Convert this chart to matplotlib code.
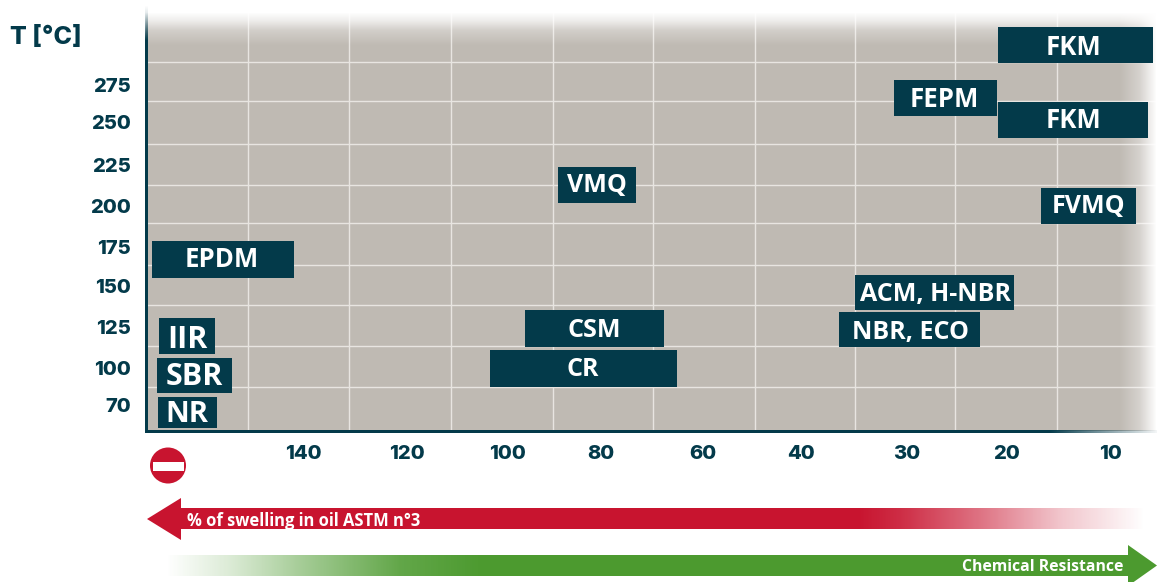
import numpy as np
import matplotlib
matplotlib.use("Agg")
import matplotlib.pyplot as plt
from matplotlib.patches import Polygon, Circle, Rectangle
from matplotlib.colors import to_rgb

# data (band coordinates of the chart's two category axes)
materials = ["FKM", "FEPM", "FKM", "VMQ", "FVMQ", "EPDM", "ACM, H-NBR", "NBR, ECO", "CSM", "CR", "IIR", "SBR", "NR"]
x_low = [8.43, 7.40, 8.43, 4.08, 8.85, 0.06, 7.01, 6.85, 3.75, 3.40, 0.13, 0.11, 0.12]
x_high = [9.96, 8.42, 9.91, 4.85, 9.79, 1.46, 8.59, 8.25, 5.12, 5.25, 0.68, 0.85, 0.70]
y_low = [9.06, 7.76, 7.22, 5.62, 5.10, 3.77, 2.98, 2.07, 2.07, 1.08, 1.90, 0.94, 0.07]
y_high = [9.95, 8.65, 8.10, 6.50, 5.99, 4.68, 3.84, 2.93, 2.98, 2.00, 2.78, 1.80, 0.84]
label_x = [9.17, 7.90, 9.17, 4.46, 9.32, 0.75, 7.81, 7.56, 4.43, 4.32, 0.41, 0.48, 0.40]
label_y = [9.53, 8.23, 7.73, 6.12, 5.60, 4.31, 3.44, 2.51, 2.56, 1.60, 2.32, 1.42, 0.49]
label_size = [18.5, 18.5, 18.5, 18, 18, 18.5, 18, 18, 18, 18, 22, 22, 21]
swelling_labels = ["140", "120", "100", "80", "60", "40", "30", "20", "10"]
swelling_pos = [1.56, 2.58, 3.58, 4.50, 5.51, 6.48, 7.52, 8.51, 9.54]
temp_labels = ["275", "250", "225", "200", "175", "150", "125", "100", "70"]
temp_pos = [8.52, 7.61, 6.56, 5.55, 4.54, 3.57, 2.57, 1.56, 0.64]
x_grid = [1.01, 2.01, 3.02, 4.03, 5.01, 6.02, 7.01, 8.00, 9.01]
y_grid = [9.09, 8.13, 7.07, 6.06, 5.12, 4.09, 3.10, 2.09, 1.08]

W, H = 1157, 582
DARK = "#033A4A"
BEIGE = "#BFBAB3"
RED = "#C8142F"
GREEN = "#4C9A2F"
FONT = ["Inter", "DejaVu Sans"]
LABEL_FONT = ["Open Sans", "DejaVu Sans"]

fig = plt.figure(figsize=(W / 100, H / 100), dpi=100, facecolor="white")
L, R, B, T = 146, 1157, 431, 12
ax = fig.add_axes([L / W, 1 - B / H, (R - L) / W, (B - T) / H])
ax.set_facecolor(BEIGE)
for s in ax.spines.values():
    s.set_visible(False)

ax.vlines(x_grid, 0, 10.32, color="#E8E5E1", lw=1.0, zorder=1)
ax.hlines(y_grid, 0, 10, color="#E8E5E1", lw=1.0, zorder=1)

# white fades over the top and right of the plot area
px_x = np.linspace(L, R, 1011)
px_y = np.linspace(T, B, 419)
top_a = np.interp(px_y, [12, 20, 30, 45], [1, 0.75, 0.3, 0])[:, None]
right_a = np.interp(px_x, [1120, 1140, 1157], [0, 0.35, 1])[None, :]
alpha = 1 - (1 - top_a) * (1 - right_a)
fade = np.ones((419, 1011, 4))
fade[..., 3] = alpha
ax.imshow(fade, extent=(0, 10, 0, 10.32), aspect="auto", zorder=2, interpolation="nearest")
ax.set_xlim(0, 10)
ax.set_ylim(0, 10.32)

for name, x0, x1, y0, y1, lx, ly, fs in zip(materials, x_low, x_high, y_low, y_high, label_x, label_y, label_size):
    ax.add_patch(Rectangle((x0, y0), x1 - x0, y1 - y0, facecolor=DARK, edgecolor="none", zorder=3))
    ax.text(lx, ly, name, color="white", fontsize=fs, fontweight="bold",
            family=LABEL_FONT, ha="center", va="center_baseline", zorder=4)

ax.set_xticks(swelling_pos, swelling_labels)
ax.set_yticks(temp_pos, temp_labels)
ax.tick_params(axis="both", length=0, labelcolor=DARK)
ax.tick_params(axis="x", pad=10)
ax.tick_params(axis="y", pad=11)
for t in ax.get_xticklabels() + ax.get_yticklabels():
    t.set_fontsize(14.5)
    t.set_fontweight("heavy")
    t.set_family(FONT)

# overlay in pixel units for the axis lines, arrows and sign
ov = fig.add_axes([0, 0, 1, 1], facecolor="none", zorder=5)
ov.axis("off")


def gradient(x0, x1, y0, y1, color, ax_x=None, ax_y=None):
    rgb = to_rgb(color)
    if ax_x is not None:
        xs = np.linspace(x0, x1, int(x1 - x0))
        a = np.interp(xs, ax_x[0], ax_x[1])[None, :]
    else:
        ys = np.linspace(y0, y1, int(y1 - y0))
        a = np.interp(ys, ax_y[0], ax_y[1])[:, None]
    img = np.zeros((a.shape[0], a.shape[1], 4))
    img[..., :3] = rgb
    img[..., 3] = a
    ov.imshow(img, extent=(x0, x1, y1, y0), aspect="auto", interpolation="nearest")


gradient(145, 148, 5, 433, DARK, ax_y=([5, 12, 40, 433], [0, 0.1, 1, 1]))
gradient(145, 1157, 430, 433, DARK, ax_x=([145, 1050, 1100, 1157], [1, 1, 0.55, 0.05]))
gradient(181, 1145, 508, 529, RED, ax_x=([181, 860, 900, 980, 1060, 1145], [1, 1, 0.9, 0.6, 0.25, 0]))
gradient(166, 1129, 555, 576, GREEN, ax_x=([166, 230, 300, 400, 480, 1129], [0, 0.2, 0.5, 0.88, 1, 1]))

ov.add_patch(Polygon([(147, 519), (181, 498), (181, 540)], facecolor=RED, edgecolor="none"))
ov.add_patch(Polygon([(1157, 565.5), (1128, 545), (1128, 586)], facecolor=GREEN, edgecolor="none"))
ov.add_patch(Circle((168, 465.5), 18, facecolor=RED, edgecolor="none"))
ov.add_patch(Rectangle((153, 462), 30.5, 8.5, facecolor="white", edgecolor="none"))

ov.text(187, 519.5, "% of swelling in oil ASTM n°3", color="white", fontsize=11.9, fontweight="bold",
        family=LABEL_FONT, ha="left", va="center_baseline")
ov.text(1123, 565, "Chemical Resistance", color="white", fontsize=11.3, fontweight="bold",
        family=LABEL_FONT, ha="right", va="center_baseline")
ov.text(10, 35, "T [°C]", color=DARK, fontsize=18, fontweight="heavy", family=FONT, ha="left", va="center_baseline")
ov.set_xlim(0, W)
ov.set_ylim(H, 0)

fig.savefig("out.png", dpi=100, facecolor="white")
